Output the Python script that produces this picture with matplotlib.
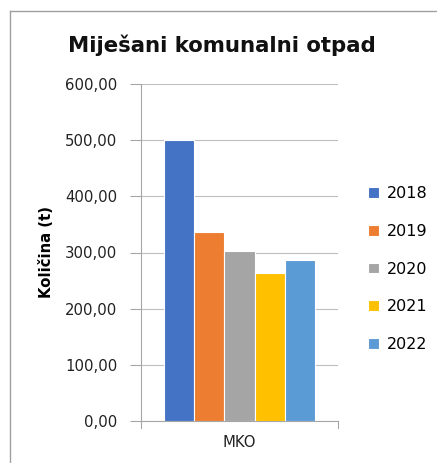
import matplotlib
matplotlib.use("Agg")
import matplotlib.pyplot as plt
from matplotlib.lines import Line2D
import numpy as np

categories = ["MKO"]
years = ["2018", "2019", "2020", "2021", "2022"]
values = [500.0, 336.0, 303.0, 263.0, 286.0]
colors = ["#4472C4", "#ED7D31", "#A5A5A5", "#FFC000", "#5B9BD5"]
yticks = [0, 100, 200, 300, 400, 500, 600]
ytick_labels = ["0,00", "100,00", "200,00", "300,00", "400,00", "500,00", "600,00"]

plt.rcParams['font.family'] = ['DejaVu Sans']

fig = plt.figure(figsize=(4.37, 4.63), dpi=100)
ax = fig.add_axes([141/437, 1-421/463, 197/437, 337/463])

w = 0.153
n = len(years)
for i, (yr, v, c) in enumerate(zip(years, values, colors)):
    x = 0 + (i - (n-1)/2) * w
    ax.bar(x, v, width=w, color=c, edgecolor="white", linewidth=0.8, label=yr, zorder=3)

ax.set_xlim(-0.5, 0.5)
ax.set_ylim(0, 600)
ax.set_yticks(yticks)
ax.set_yticklabels(ytick_labels, fontsize=10.7, color="#222222")
ax.set_xticks([0])
ax.set_xticklabels(categories, fontsize=10.7, color="#222222")
ax.tick_params(axis="x", length=0, pad=10)
ax.tick_params(axis="y", length=8, color="#A6A6A6", width=0.8, pad=9)
ax.yaxis.grid(True, color="#BFBFBF", linewidth=0.8, zorder=0)
for s in ["top", "right"]:
    ax.spines[s].set_visible(False)
ax.spines["left"].set_color("#A6A6A6")
ax.spines["bottom"].set_color("#A6A6A6")
ax.spines["left"].set_linewidth(0.8)
ax.spines["bottom"].set_linewidth(0.8)
for xx in [-0.5, 0.5]:
    ax.plot([xx, xx], [0, -12], color="#A6A6A6", linewidth=0.8, clip_on=False, zorder=4)

ax.set_ylabel("Količina (t)", fontsize=10.7, fontweight="bold", labelpad=8)

fig.text(222/437, 1-45/463, "Miješani komunalni otpad", ha="center", va="center",
         fontsize=15.3, fontweight="bold", color="#111111")

leg = ax.legend(loc="upper left", bbox_to_anchor=(362/437, 1-180/463), bbox_transform=fig.transFigure,
                frameon=False, fontsize=11.5, handlelength=0.65, handleheight=0.65,
                handletextpad=0.5, labelspacing=1.42, borderaxespad=0)

fig.add_artist(Line2D([10/437, 10/437], [0, 1-11/463], transform=fig.transFigure, color="#A0A0A0", linewidth=1))
fig.add_artist(Line2D([10/437, 1], [1-11/463, 1-11/463], transform=fig.transFigure, color="#A0A0A0", linewidth=1))

fig.savefig("out.png", dpi=100)
